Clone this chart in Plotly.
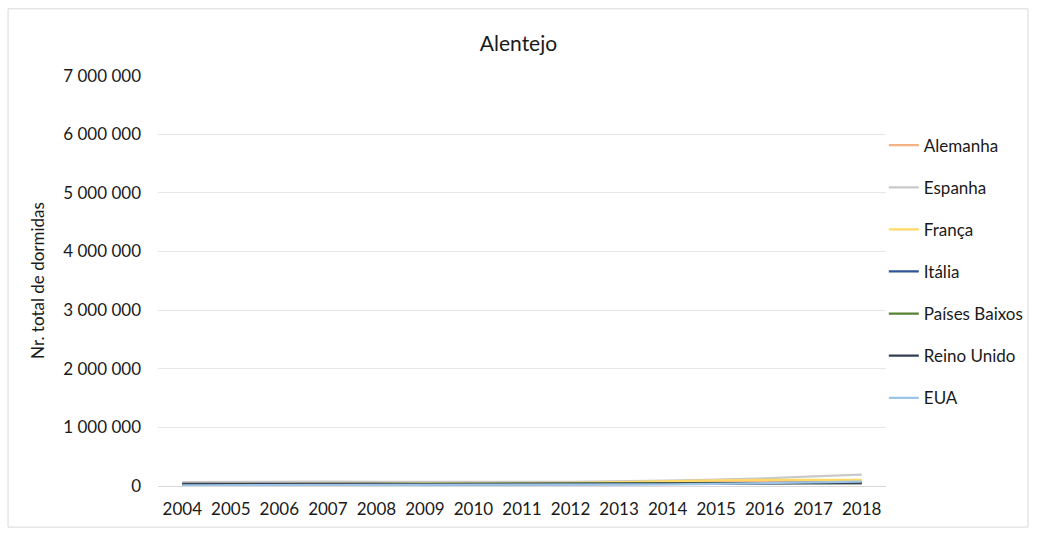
import plotly.graph_objects as go

years = [str(y) for y in range(2004, 2019)]

alemanha = [45000, 48000, 50000, 50000, 48000, 45000, 48000, 50000, 52000, 55000, 60000, 65000, 70000, 75000, 80000]
espanha = [65000, 70000, 72000, 75000, 72000, 68000, 70000, 72000, 70000, 75000, 90000, 110000, 130000, 165000, 195000]
franca = [30000, 32000, 34000, 35000, 35000, 36000, 38000, 45000, 52000, 65000, 85000, 95000, 105000, 110000, 105000]
italia = [15000, 16000, 18000, 20000, 20000, 20000, 22000, 24000, 26000, 30000, 38000, 45000, 52000, 58000, 62000]
paises_baixos = [30000, 32000, 34000, 36000, 36000, 34000, 35000, 36000, 35000, 36000, 40000, 42000, 45000, 48000, 50000]
reino_unido = [35000, 38000, 40000, 40000, 36000, 34000, 36000, 38000, 40000, 42000, 45000, 48000, 52000, 52000, 48000]
eua = [12000, 13000, 14000, 15000, 14000, 14000, 15000, 16000, 18000, 22000, 28000, 35000, 45000, 58000, 75000]

series_names = ["Alemanha", "Espanha", "França", "Itália", "Países Baixos", "Reino Unido", "EUA"]
series_values = [alemanha, espanha, franca, italia, paises_baixos, reino_unido, eua]
series_colors = ["#F4B183", "#C9C9C9", "#FFD966", "#2F5597", "#548235", "#333F50", "#9DC3E6"]

y_ticks = [0, 1000000, 2000000, 3000000, 4000000, 5000000, 6000000, 7000000]
y_tick_labels = ["0", "1 000 000", "2 000 000", "3 000 000", "4 000 000", "5 000 000", "6 000 000", "7 000 000"]

FONT = "Lato, 'Open Sans', sans-serif"
TXT = "#1a1a1a"

fig = go.Figure()
for i, (name, vals, col) in enumerate(zip(series_names, series_values, series_colors)):
    fig.add_trace(go.Scatter(
        x=years, y=vals, name=name, mode="lines",
        line=dict(color=col, width=2.25),
        legendgroup=f"g{i}",
    ))

fig.update_layout(
    width=1037, height=538,
    paper_bgcolor="white", plot_bgcolor="white",
    margin=dict(l=158, r=151, t=75, b=52, autoexpand=False),
    font=dict(family=FONT, size=16, color=TXT),
    title=dict(text="Alentejo", x=0.5, xanchor="center", y=0.918, yanchor="middle",
               font=dict(size=21, color=TXT)),
    showlegend=True,
    legend=dict(x=0.997, xanchor="left", y=0.872, yanchor="top",
                tracegroupgap=17, font=dict(size=17, color=TXT),
                itemwidth=30, bgcolor="rgba(0,0,0,0)"),
    xaxis=dict(type="category", range=[-0.5, 14.5], showgrid=False, showline=True,
               linecolor="#D9D9D9", linewidth=1, ticks="", ticklabelstandoff=8,
               tickfont=dict(size=17, color=TXT)),
    yaxis=dict(range=[0, 7010000], tickvals=y_ticks, ticktext=y_tick_labels,
               showgrid=True, gridcolor="#E6E6E6", gridwidth=1, zeroline=False,
               showline=False, ticks="", ticklabelstandoff=16,
               tickfont=dict(size=17, color=TXT),
               title=dict(text="Nr. total de dormidas", standoff=14,
                          font=dict(size=17, color=TXT))),
    shapes=[dict(type="rect", xref="paper", yref="paper",
                 x0=-0.206, x1=1.195, y0=-0.1, y1=1.161,
                 line=dict(color="#D9D9D9", width=1), fillcolor="rgba(0,0,0,0)", layer="below")],
)

fig.write_html("out.html")
